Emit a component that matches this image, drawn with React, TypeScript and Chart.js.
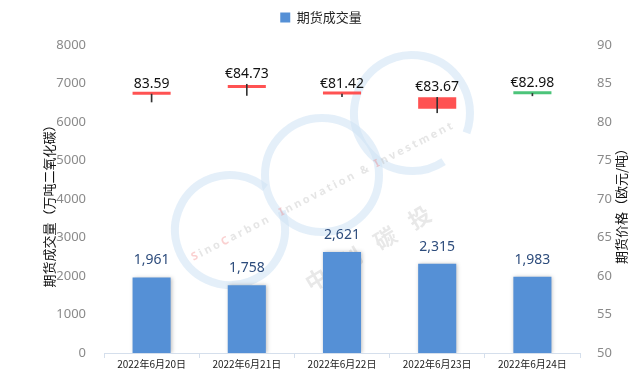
import React, { useEffect, useRef } from "react";
import { Chart, registerables } from "chart.js";

Chart.register(...registerables);

const categories = ["2022年6月20日", "2022年6月21日", "2022年6月22日", "2022年6月23日", "2022年6月24日"];
const volumes = [1961, 1758, 2621, 2315, 1983];
const priceOpen = [83.62, 84.5, 83.62, 83.2, 83.62];
const priceClose = [83.55, 84.42, 83.56, 81.72, 83.7];
const priceHigh = [83.62, 84.9, 83.62, 83.2, 83.7];
const priceLow = [82.6, 83.45, 83.3, 81.2, 83.4];
const priceLabels = ["83.59", "€84.73", "€81.42", "€83.67", "€82.98"];
const leftTicks = [0, 1000, 2000, 3000, 4000, 5000, 6000, 7000, 8000];
const rightTicks = [50, 55, 60, 65, 70, 75, 80, 85, 90];
const leftTitle = "期货成交量（万吨二氧化碳）";
const rightTitle = "期货价格（欧元/吨）";
const watermarkEn = "SinoCarbon  Innovation & Investment";
const watermarkCn = "中创碳投";

const FONT = '"Segoe UI", "Noto Sans", "Noto Sans CJK SC", sans-serif';
const CJK = '"Noto Sans CJK SC", "Noto Sans", sans-serif';
const BLUE = "#5590D6";
const RED = "#FF5252";
const GREEN = "#4CC47A";

const watermarkPlugin = {
  id: "watermark",
  beforeDatasetsDraw(chart: any) {
    const ctx = chart.ctx;
    ctx.save();
    ctx.strokeStyle = "rgba(205,226,244,0.55)";
    ctx.lineWidth = 8;
    const d = Math.PI / 180;
    ctx.beginPath();
    ctx.arc(230, 230, 55, -20 * d, -50 * d + 2 * Math.PI);
    ctx.stroke();
    ctx.beginPath();
    ctx.arc(322, 175, 57, 0, 2 * Math.PI);
    ctx.stroke();
    ctx.beginPath();
    ctx.arc(412, 113, 58, 57 * d, 20 * d + 2 * Math.PI);
    ctx.stroke();
    // english text
    ctx.save();
    ctx.translate(192, 258);
    ctx.rotate(-27 * d);
    ctx.font = "bold 11px " + FONT;
    ctx.textBaseline = "middle";
    let x = 0;
    for (let i = 0; i < watermarkEn.length; i++) {
      const ch = watermarkEn[i];
      const red = i === 0 || i === 4 || i === 12 || i === 25;
      ctx.fillStyle = red ? "rgba(240,120,120,0.35)" : "rgba(170,170,170,0.3)";
      ctx.fillText(ch, x, 0);
      x += ctx.measureText(ch).width + 2.5;
    }
    ctx.restore();
    // chinese text
    ctx.save();
    ctx.translate(307, 285);
    ctx.rotate(-31 * d);
    ctx.font = "bold 22px " + CJK;
    ctx.textBaseline = "middle";
    ctx.fillStyle = "rgba(180,180,180,0.3)";
    for (let i = 0; i < watermarkCn.length; i++) {
      ctx.fillText(watermarkCn[i], i * 40, 0);
    }
    ctx.restore();
    ctx.restore();
  },
};

const labelPlugin = {
  id: "customLabels",
  afterDatasetsDraw(chart: any) {
    const ctx = chart.ctx;
    const barMeta = chart.getDatasetMeta(0);
    ctx.save();
    ctx.textAlign = "center";
    ctx.textBaseline = "middle";
    ctx.font = "14px " + FONT;
    ctx.fillStyle = "#2D4C7C";
    barMeta.data.forEach((el: any, i: number) => {
      ctx.fillText(volumes[i].toLocaleString("en-US"), el.x, el.y - 17);
    });
    const yR = chart.scales.y1;
    ctx.fillStyle = "#111";
    const candleMeta = chart.getDatasetMeta(1);
    candleMeta.data.forEach((el: any, i: number) => {
      const top = yR.getPixelForValue(priceHigh[i]);
      ctx.fillText(priceLabels[i], el.x, top - 10);
    });
    const ca = chart.chartArea;
    const cy = (ca.top + ca.bottom) / 2;
    ctx.font = "13px " + CJK;
    ctx.fillStyle = "#111";
    [
      [leftTitle, 49],
      [rightTitle, 621],
    ].forEach(([t, x]: any) => {
      ctx.save();
      ctx.translate(x, cy + 4);
      ctx.rotate(-Math.PI / 2);
      ctx.fillText(t, 0, 0);
      ctx.restore();
    });
    ctx.restore();
  },
};

const shadowPlugin = {
  id: "barShadow",
  beforeDatasetDraw(chart: any, args: any) {
    if (args.index === 0) {
      chart.ctx.save();
      chart.ctx.shadowColor = "rgba(0,0,0,0.25)";
      chart.ctx.shadowBlur = 4;
      chart.ctx.shadowOffsetX = 1;
      chart.ctx.shadowOffsetY = 0;
    }
  },
  afterDatasetDraw(chart: any, args: any) {
    if (args.index === 0) chart.ctx.restore();
  },
};

const legendSpacing = {
  id: "legendSpacing",
  beforeInit(chart: any) {
    const lg = chart.legend;
    const orig = lg.fit;
    lg.fit = function () {
      orig.call(lg);
      lg.height += 11;
    };
  },
};

export default function App() {
  const ref = useRef<HTMLCanvasElement>(null);
  useEffect(() => {
    document.body.style.margin = "0";
    const candleColors = priceOpen.map((o, i) => (priceClose[i] > o ? GREEN : RED));
    const chart = new Chart(ref.current!, {
      type: "bar",
      data: {
        labels: categories,
        datasets: [
          {
            label: "期货成交量",
            data: volumes,
            backgroundColor: BLUE,
            yAxisID: "y",
            barPercentage: 0.4,
            categoryPercentage: 1,
            grouped: false,
            order: 3,
          } as any,
          {
            label: "body",
            data: priceOpen.map((o, i) => [o, priceClose[i]]),
            backgroundColor: candleColors,
            yAxisID: "y1",
            barPercentage: 0.4,
            categoryPercentage: 1,
            grouped: false,
            minBarLength: 3,
            order: 2,
          } as any,
          {
            label: "wick",
            data: priceLow.map((l, i) => [l, priceHigh[i]]),
            backgroundColor: "#333",
            yAxisID: "y1",
            barThickness: 1,
            grouped: false,
            order: 1,
          } as any,
        ],
      },
      options: {
        animation: false,
        responsive: true,
        maintainAspectRatio: false,
        layout: { padding: { left: 0, right: 0, top: 0, bottom: 12 } },
        plugins: {
          legend: {
            position: "top",
            labels: {
              filter: (item: any) => item.datasetIndex === 0,
              boxWidth: 10,
              boxHeight: 10,
              color: "#222",
              font: { size: 13, family: CJK },
              padding: 11,
            },
          },
          tooltip: { enabled: false },
        },
        scales: {
          x: {
            grid: {
              display: true,
              drawOnChartArea: false,
              offset: true,
              tickLength: 5,
              color: "#D5DFEC",
            },
            border: { color: "#D5DFEC" },
            ticks: { color: "#222", font: { size: 10, family: CJK }, maxRotation: 0, padding: 0 },
          },
          y: {
            position: "left",
            min: 0,
            max: 8000,
            afterBuildTicks: (s: any) => {
              s.ticks = leftTicks.map((v) => ({ value: v }));
            },
            afterFit: (s: any) => {
              s.width = 104;
            },
            grid: { display: false },
            border: { display: false },
            ticks: {
              color: "#8A8A8A",
              font: { size: 13, family: FONT },
              padding: 10,
              callback: (v: any) => String(v),
            },
          },
          y1: {
            position: "right",
            min: 50,
            max: 90,
            afterBuildTicks: (s: any) => {
              s.ticks = rightTicks.map((v) => ({ value: v }));
            },
            afterFit: (s: any) => {
              s.width = 62;
            },
            grid: { display: false },
            border: { display: false },
            ticks: {
              color: "#8A8A8A",
              font: { size: 13, family: FONT },
              padding: 9,
              callback: (v: any) => String(v),
            },
          },
        },
      },
      plugins: [watermarkPlugin, labelPlugin, shadowPlugin, legendSpacing],
    } as any);
    return () => chart.destroy();
  }, []);
  return (
    <div style={{ position: "absolute", left: 0, top: 0, width: 642, height: 382 }}>
      <canvas ref={ref} />
    </div>
  );
}
